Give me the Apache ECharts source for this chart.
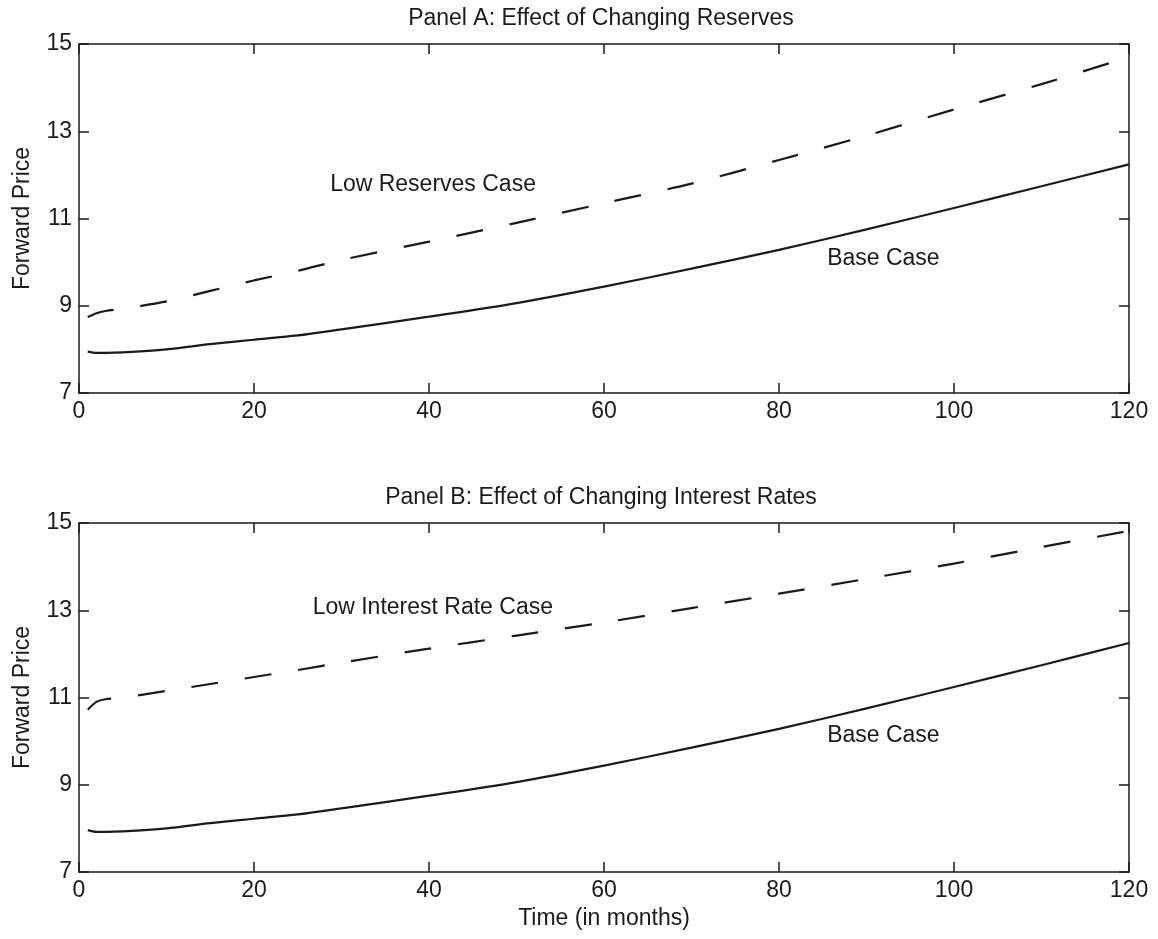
<!DOCTYPE html>
<html><head><meta charset="utf-8">
<script src="https://cdn.jsdelivr.net/npm/echarts@6/dist/echarts.min.js"></script>
<style>html,body{margin:0;padding:0;background:#fff}#c{width:1158px;height:939px}</style>
</head><body><div id="c"></div>
<script>
const months = [1,2,3,5,10,15,20,25,30,40,50,60,70,80,90,100,110,120];
const baseCase = [7.95,7.92,7.92,7.93,8.0,8.12,8.22,8.32,8.46,8.75,9.06,9.44,9.85,10.28,10.75,11.24,11.74,12.24];
const lowReserves = [8.74,8.83,8.88,8.93,9.1,9.34,9.58,9.8,10.05,10.47,10.9,11.35,11.8,12.34,12.9,13.5,14.08,14.7];
const baseCaseB = [7.96,7.92,7.92,7.93,8.0,8.12,8.22,8.32,8.46,8.75,9.06,9.44,9.85,10.28,10.75,11.24,11.74,12.25];
const lowInterest = [10.72,10.9,10.96,11.0,11.15,11.31,11.47,11.63,11.8,12.12,12.42,12.72,13.05,13.38,13.72,14.07,14.45,14.82];
const xTicks = [0,20,40,60,80,100,120];
const yTicks = [7,9,11,13,15];
const titles = ['Panel A: Effect of Changing Reserves','Panel B: Effect of Changing Interest Rates'];
const annotations = [
  [[28.7,11.77,'Low Reserves Case'],[85.5,10.09,'Base Case']],
  [[26.7,13.05,'Low Interest Rate Case'],[85.5,10.12,'Base Case']]
];

const FONT = 'Liberation Sans, Arial, sans-serif';
const ink = '#1a1a1a';
const FS = 23;
const grids = [
  {left:79, top:44, width:1050, height:349},
  {left:79, top:523, width:1050, height:349}
];
const xAxes=[], yAxes=[], series=[];
grids.forEach((g,i)=>{
  const common = {min:xTicks[0],max:xTicks[xTicks.length-1],interval:xTicks[1]-xTicks[0],gridIndex:i,type:'value',
    axisLine:{show:true,onZero:false,lineStyle:{color:ink,width:1.5}},
    axisTick:{show:true,inside:true,length:10,lineStyle:{color:ink,width:1.5}},
    splitLine:{show:false}};
  xAxes.push(Object.assign({},common,{position:'bottom',
    axisLabel:{show:true,color:ink,fontSize:FS,fontFamily:FONT,margin:7},
    name: i===1?'Time (in months)':'', nameLocation:'middle', nameGap:35,
    nameTextStyle:{color:ink,fontSize:FS,fontFamily:FONT}}));
  xAxes.push(Object.assign({},common,{position:'top',axisLabel:{show:false}}));
  const ycommon = {min:yTicks[0],max:yTicks[yTicks.length-1],interval:yTicks[1]-yTicks[0],gridIndex:i,type:'value',
    axisLine:{show:true,onZero:false,lineStyle:{color:ink,width:1.5}},
    axisTick:{show:true,inside:true,length:10,lineStyle:{color:ink,width:1.5}},
    splitLine:{show:false}};
  yAxes.push(Object.assign({},ycommon,{position:'left',
    axisLabel:{show:true,color:ink,fontSize:FS,fontFamily:FONT,margin:7},
    name:'Forward Price',nameLocation:'middle',nameGap:45,nameRotate:90,
    nameTextStyle:{color:ink,fontSize:FS,fontFamily:FONT}}));
  yAxes.push(Object.assign({},ycommon,{position:'right',axisLabel:{show:false}}));
});
function mk(xs,ys){return xs.map((x,k)=>[x,ys[k]]);}
const solid = [baseCase, baseCaseB];
const dashed = [lowReserves, lowInterest];
[0,1].forEach(i=>{
  series.push({type:'line',xAxisIndex:2*i,yAxisIndex:2*i,data:mk(months,solid[i]),smooth:0.3,
    showSymbol:false,lineStyle:{color:ink,width:2.2,type:'solid'}});
  series.push({type:'line',xAxisIndex:2*i,yAxisIndex:2*i,data:mk(months,dashed[i]),smooth:0.3,
    showSymbol:false,lineStyle:{color:ink,width:2.2,type:[27,27]}});
  series.push({type:'scatter',xAxisIndex:2*i,yAxisIndex:2*i,symbolSize:0,
    itemStyle:{opacity:1,color:ink},
    data:annotations[i].map(a=>({value:[a[0],a[1]],name:a[2]})),
    label:{show:true,position:'right',distance:0,formatter:p=>p.name,color:ink,opacity:1,fontSize:FS,fontFamily:FONT}});
});
const chart = echarts.init(document.getElementById('c'),null,{renderer:'canvas'});
chart.setOption({
  backgroundColor:'#fff',animation:false,
  title:[
    {text:titles[0],left:596,textAlign:'center',top:2,textStyle:{color:ink,fontSize:FS,fontWeight:'normal',fontFamily:FONT}},
    {text:titles[1],left:596,textAlign:'center',top:481,textStyle:{color:ink,fontSize:FS,fontWeight:'normal',fontFamily:FONT}}
  ],
  grid:grids,xAxis:xAxes,yAxis:yAxes,series:series
});
</script></body></html>
